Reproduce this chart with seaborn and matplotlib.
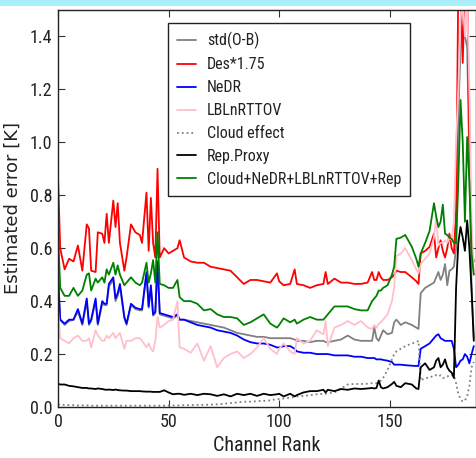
import matplotlib
matplotlib.use("Agg")
import matplotlib.pyplot as plt
import seaborn as sns
import pandas as pd
from matplotlib import font_manager as fm
from matplotlib.patches import Rectangle

# ---------------- data ----------------
channel = [0, 1, 3, 5, 7, 9, 11, 13, 14, 15,
           17, 18, 20, 21, 22, 23, 25, 26, 27, 28,
           30, 31, 33, 35, 37, 38, 40, 41, 42, 43,
           44, 45, 46, 48, 50, 52, 54, 55, 57, 60,
           63, 66, 69, 72, 75, 78, 81, 84, 87, 90,
           93, 96, 99, 100, 102, 105, 107, 108, 111, 114,
           117, 120, 121, 122, 125, 128, 131, 134, 137, 140,
           142, 143, 144, 145, 146, 147, 149, 151, 152, 153,
           155, 157, 160, 162, 163, 164, 166, 168, 170, 171,
           172, 173, 174, 175, 176, 177, 178, 179, 180, 181,
           182, 183, 184, 185, 186, 187, 188]

std_ob = [0.49, 0.33, 0.31, 0.325, 0.33, 0.36, 0.31, 0.40, 0.31, 0.325,
          0.40, 0.31, 0.39, 0.385, 0.385, 0.455, 0.48, 0.40, 0.42, 0.455,
          0.335, 0.31, 0.385, 0.37, 0.365, 0.365, 0.50, 0.375, 0.45, 0.345,
          0.355, 0.54, 0.35, 0.345, 0.34, 0.335, 0.345, 0.33, 0.33, 0.325,
          0.32, 0.315, 0.31, 0.305, 0.30, 0.29, 0.28, 0.275, 0.27, 0.265,
          0.265, 0.26, 0.26, 0.26, 0.26, 0.26, 0.255, 0.25, 0.25, 0.245,
          0.25, 0.25, 0.245, 0.245, 0.25, 0.255, 0.27, 0.255, 0.25, 0.25,
          0.25, 0.30, 0.26, 0.25, 0.27, 0.29, 0.275, 0.28, 0.32, 0.33,
          0.31, 0.32, 0.31, 0.30, 0.295, 0.43, 0.45, 0.46, 0.47, 0.49,
          0.51, 0.48, 0.50, 0.54, 0.46, 0.515, 0.52, 0.53, 0.60, 1.11,
          1.35, 1.44, 1.40, 1.36, 0.91, 0.45, 0.26]

des = [0.87, 0.60, 0.52, 0.56, 0.55, 0.61, 0.515, 0.69, 0.675, 0.515,
       0.51, 0.66, 0.655, 0.62, 0.73, 0.62, 0.78, 0.68, 0.77, 0.62,
       0.515, 0.565, 0.69, 0.66, 0.65, 0.62, 0.81, 0.59, 0.79, 0.62,
       0.565, 0.90, 0.565, 0.60, 0.58, 0.59, 0.60, 0.63, 0.565, 0.55,
       0.545, 0.545, 0.53, 0.525, 0.52, 0.515, 0.49, 0.465, 0.48, 0.48,
       0.475, 0.47, 0.505, 0.475, 0.46, 0.465, 0.52, 0.465, 0.46, 0.45,
       0.46, 0.465, 0.51, 0.465, 0.485, 0.47, 0.47, 0.465, 0.465, 0.47,
       0.51, 0.48, 0.48, 0.51, 0.49, 0.48, 0.48, 0.49, 0.50, 0.515,
       0.51, 0.51, 0.49, 0.475, 0.465, 0.58, 0.59, 0.605, 0.655, 0.565,
       0.60, 0.63, 0.59, 0.565, 0.60, 0.655, 0.60, 0.58, 0.74, 1.6,
       1.6, 1.3, 1.6, 1.6, 1.0, 0.6, 0.55]

nedr = [0.50, 0.33, 0.315, 0.33, 0.33, 0.37, 0.315, 0.41, 0.315, 0.33,
        0.41, 0.315, 0.40, 0.39, 0.39, 0.465, 0.49, 0.41, 0.43, 0.465,
        0.34, 0.315, 0.39, 0.375, 0.37, 0.37, 0.51, 0.38, 0.46, 0.35,
        0.36, 0.55, 0.355, 0.35, 0.345, 0.34, 0.35, 0.33, 0.33, 0.32,
        0.31, 0.305, 0.30, 0.29, 0.285, 0.28, 0.27, 0.255, 0.245, 0.24,
        0.24, 0.235, 0.225, 0.225, 0.23, 0.23, 0.22, 0.21, 0.205, 0.205,
        0.20, 0.20, 0.20, 0.20, 0.195, 0.195, 0.195, 0.19, 0.19, 0.185,
        0.185, 0.185, 0.18, 0.18, 0.18, 0.178, 0.175, 0.17, 0.16, 0.16,
        0.16, 0.158, 0.156, 0.155, 0.155, 0.22, 0.23, 0.24, 0.26, 0.27,
        0.275, 0.26, 0.255, 0.25, 0.25, 0.25, 0.25, 0.22, 0.15, 0.16,
        0.175, 0.18, 0.20, 0.19, 0.165, 0.20, 0.23]

lbl = [0.37, 0.26, 0.25, 0.24, 0.26, 0.27, 0.25, 0.25, 0.26, 0.225,
       0.29, 0.27, 0.25, 0.25, 0.27, 0.26, 0.28, 0.26, 0.27, 0.28,
       0.22, 0.25, 0.25, 0.26, 0.26, 0.25, 0.225, 0.24, 0.22, 0.21,
       0.25, 0.34, 0.30, 0.31, 0.325, 0.33, 0.40, 0.225, 0.22, 0.205,
       0.24, 0.175, 0.23, 0.15, 0.185, 0.20, 0.21, 0.185, 0.20, 0.225,
       0.26, 0.22, 0.20, 0.22, 0.24, 0.21, 0.20, 0.26, 0.24, 0.25,
       0.29, 0.275, 0.325, 0.23, 0.30, 0.31, 0.325, 0.31, 0.325, 0.30,
       0.295, 0.31, 0.30, 0.315, 0.32, 0.33, 0.35, 0.40, 0.45, 0.57,
       0.58, 0.60, 0.555, 0.52, 0.505, 0.54, 0.56, 0.58, 0.64, 0.72,
       0.61, 0.62, 0.62, 0.63, 0.62, 0.64, 0.63, 0.70, 1.0, 1.2,
       1.46, 1.55, 1.4, 1.55, 1.2, 0.7, 0.5]

cloud = [0.01, 0.008, 0.008, 0.007, 0.007, 0.006, 0.006, 0.006, 0.006, 0.005,
         0.005, 0.005, 0.005, 0.005, 0.005, 0.005, 0.005, 0.005, 0.005, 0.005,
         0.005, 0.005, 0.005, 0.005, 0.005, 0.005, 0.005, 0.005, 0.005, 0.005,
         0.005, 0.005, 0.005, 0.005, 0.006, 0.006, 0.006, 0.006, 0.007, 0.007,
         0.008, 0.008, 0.009, 0.01, 0.012, 0.015, 0.017, 0.02, 0.02, 0.022,
         0.023, 0.025, 0.03, 0.03, 0.032, 0.035, 0.038, 0.04, 0.042, 0.045,
         0.048, 0.05, 0.05, 0.052, 0.055, 0.07, 0.085, 0.087, 0.087, 0.088,
         0.09, 0.09, 0.09, 0.095, 0.10, 0.11, 0.14, 0.18, 0.20, 0.21,
         0.22, 0.23, 0.24, 0.245, 0.25, 0.10, 0.11, 0.11, 0.12, 0.12,
         0.115, 0.12, 0.11, 0.11, 0.115, 0.12, 0.12, 0.12, 0.09, 0.05,
         0.03, 0.02, 0.025, 0.04, 0.08, 0.15, 0.17]

rep = [0.088, 0.085, 0.085, 0.08, 0.078, 0.075, 0.072, 0.072, 0.07, 0.07,
       0.068, 0.07, 0.068, 0.066, 0.065, 0.066, 0.064, 0.066, 0.064, 0.063,
       0.062, 0.062, 0.06, 0.06, 0.06, 0.059, 0.058, 0.058, 0.058, 0.057,
       0.057, 0.057, 0.057, 0.063, 0.055, 0.048, 0.05, 0.05, 0.046, 0.05,
       0.045, 0.05, 0.048, 0.042, 0.048, 0.04, 0.05, 0.045, 0.05, 0.042,
       0.05, 0.045, 0.048, 0.05, 0.04, 0.05, 0.04, 0.045, 0.055, 0.06,
       0.06, 0.065, 0.055, 0.065, 0.06, 0.068, 0.065, 0.07, 0.068, 0.07,
       0.072, 0.07, 0.072, 0.10, 0.075, 0.07, 0.075, 0.087, 0.095, 0.08,
       0.075, 0.09, 0.085, 0.07, 0.068, 0.15, 0.165, 0.14, 0.15, 0.175,
       0.185, 0.15, 0.16, 0.18, 0.15, 0.137, 0.13, 0.11, 0.45, 0.62,
       0.68, 0.64, 0.59, 0.705, 0.60, 0.44, 0.25]

total = [0.66, 0.45, 0.42, 0.42, 0.45, 0.42, 0.44, 0.50, 0.505, 0.44,
         0.485, 0.47, 0.49, 0.47, 0.52, 0.50, 0.545, 0.50, 0.535, 0.50,
         0.46, 0.47, 0.49, 0.47, 0.46, 0.47, 0.545, 0.47, 0.505, 0.555,
         0.47, 0.66, 0.465, 0.46, 0.45, 0.45, 0.48, 0.415, 0.40, 0.40,
         0.39, 0.365, 0.37, 0.35, 0.34, 0.34, 0.335, 0.31, 0.32, 0.335,
         0.35, 0.315, 0.30, 0.31, 0.335, 0.32, 0.33, 0.315, 0.33, 0.34,
         0.33, 0.33, 0.34, 0.35, 0.38, 0.38, 0.38, 0.37, 0.365, 0.365,
         0.40, 0.41, 0.42, 0.44, 0.44, 0.45, 0.46, 0.50, 0.53, 0.635,
         0.64, 0.65, 0.605, 0.56, 0.53, 0.58, 0.62, 0.665, 0.77, 0.72,
         0.68, 0.70, 0.765, 0.655, 0.65, 0.64, 0.635, 0.62, 0.62, 0.85,
         1.16, 1.0, 0.70, 1.02, 0.85, 0.58, 0.50]

labels = ["std(O-B)", "Des*1.75", "NeDR", "LBLnRTTOV", "Cloud effect",
          "Rep.Proxy", "Cloud+NeDR+LBLnRTTOV+Rep"]
x_ticks = [0, 50, 100, 150]
y_ticks = [0.0, 0.2, 0.4, 0.6, 0.8, 1.0, 1.2, 1.4]

series = [std_ob, des, nedr, lbl, cloud, rep, total]
for s in series:
    assert len(s) == len(channel), len(s)

# ---------------- style ----------------
sns.set_theme(style="white")
names = {f.name for f in fm.fontManager.ttflist}
narrow_kw = {}
if "Liberation Sans Narrow" in names:
    narrow_kw = {"family": ["Liberation Sans Narrow", "DejaVu Sans"]}
elif "Roboto Condensed" in names:
    narrow_kw = {"family": ["Roboto Condensed", "DejaVu Sans"]}
elif any(f.name == "DejaVu Sans" and f.stretch == "condensed" for f in fm.fontManager.ttflist):
    narrow_kw = {"family": ["DejaVu Sans"], "stretch": "condensed"}
else:
    narrow_kw = {"family": ["Liberation Sans", "DejaVu Sans"]}
plt.rcParams["font.family"] = ["DejaVu Sans"]

colors = ["#808080", "#ff0000", "#0000ff", "#ffc0cb", "#808080", "#000000", "#008000"]
styles = ["-", "-", "-", "-", ":", "-", "-"]

fig = plt.figure(figsize=(4.77, 4.58), dpi=100)
fig.patch.set_facecolor("white")
fig.patches.append(Rectangle((0, 1 - 6 / 458), 1, 6 / 458, transform=fig.transFigure,
                             facecolor="#a9eef9", edgecolor="none", zorder=0))
ax = fig.add_axes([58 / 477, 51 / 458, 418 / 477, 397 / 458])
ax.set_facecolor("white")

for vals, lab, col, ls in zip(series, labels, colors, styles):
    df = pd.DataFrame({"Channel": channel, "Value": vals})
    sns.lineplot(data=df, x="Channel", y="Value", color=col, linestyle=ls,
                 linewidth=1.3, label=lab, ax=ax, zorder=2)

ax.set_xlim(0, 189)
ax.set_ylim(0, 1.5)
ax.set_xticks(x_ticks)
ax.set_yticks(y_ticks)
ax.set_xticklabels([str(t) for t in x_ticks])
ax.set_yticklabels([f"{t:.1f}" for t in y_ticks])
for lab in ax.get_xticklabels() + ax.get_yticklabels():
    lab.set_fontproperties(fm.FontProperties(size=13, **narrow_kw))
    lab.set_color("#222222")
ax.tick_params(direction="in", length=5, width=0.8, top=True, right=True,
               bottom=True, left=True, color="#333333", pad=4)
for sp in ax.spines.values():
    sp.set_visible(True)
    sp.set_color("#222222")
    sp.set_linewidth(1.0)

ax.set_xlabel("Channel Rank", fontproperties=fm.FontProperties(size=14.5, **narrow_kw),
              color="#222222", labelpad=4)
ax.set_ylabel("Estimated error [K]", fontsize=13, family="DejaVu Sans",
              color="#222222", labelpad=6)

leg = ax.legend(loc="upper left", bbox_to_anchor=(0.263, 0.967), borderaxespad=0,
                prop=fm.FontProperties(size=11.5, **narrow_kw), frameon=True,
                fancybox=False, shadow=False, handlelength=1.2, handletextpad=0.7,
                labelspacing=0.5, borderpad=0.55)
leg.get_frame().set_edgecolor("#222222")
leg.get_frame().set_linewidth(1.0)
leg.get_frame().set_alpha(1)
for t in leg.get_texts():
    t.set_color("#222222")

fig.savefig("out.png", dpi=100)
